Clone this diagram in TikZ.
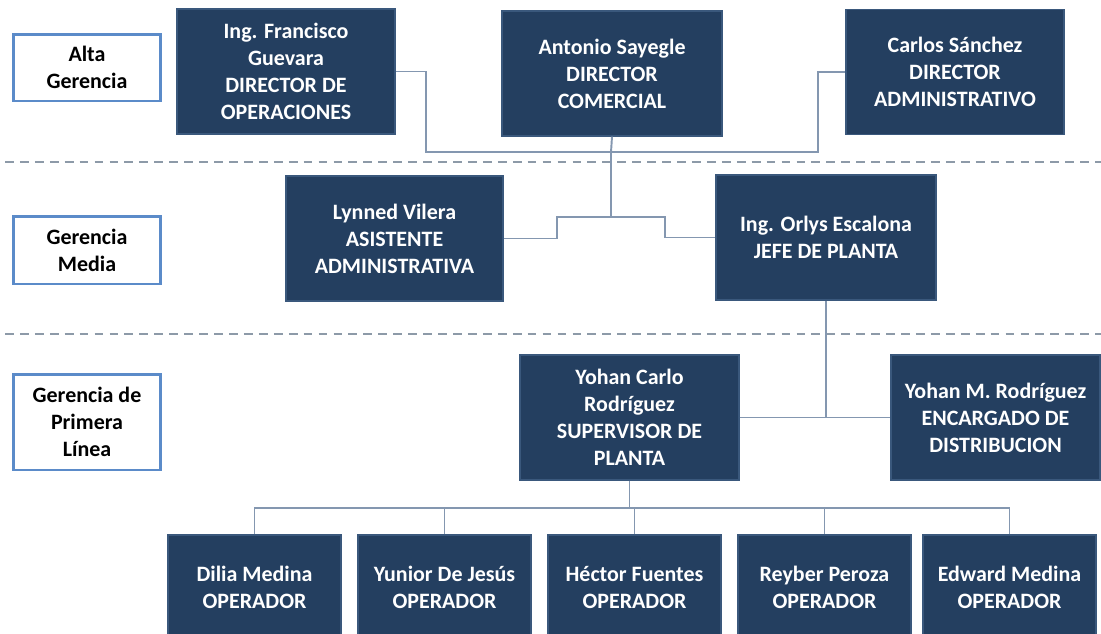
\documentclass[tikz,border=0pt]{standalone}
\usepackage{fontspec}
\setmainfont{Carlito}
\usetikzlibrary{positioning}
\definecolor{boxnavy}{HTML}{243F60}
\definecolor{boxedge}{HTML}{3A587C}
\definecolor{linkgray}{HTML}{8497B0}
\definecolor{levelblue}{HTML}{5B8BC9}
\definecolor{sepgray}{HTML}{8D9AA8}
\begin{document}
\begin{tikzpicture}[x=0.02cm, y=-0.02cm,
    person/.style={draw=boxedge, line width=0.8pt, fill=boxnavy, text=white, font=\fontsize{12.5}{15.3}\selectfont\bfseries, align=center, minimum width=4.36cm, minimum height=2.5cm, inner sep=2pt},
    worker/.style={person, minimum width=3.46cm, minimum height=2.1cm},
    level/.style={draw=levelblue, line width=1.7pt, fill=white, font=\fontsize{12.5}{15.3}\selectfont\bfseries, align=center, minimum width=2.93cm, inner sep=2pt},
    link/.style={draw=linkgray, line width=1.1pt},
    sep/.style={draw=sepgray, line width=0.9pt, dash pattern=on 5pt off 3.5pt}]
    \useasboundingbox (0,0) rectangle (1101,633);

    % Separators between levels
    \draw[sep] (5,162) -- (1101,162);
    \draw[sep] (5,334) -- (1101,334);

    % Level labels
    \node[level, minimum height=1.34cm] (alta) at (87,67.5) {Alta\\Gerencia};
    \node[level, minimum height=1.36cm] (media) at (87,250) {Gerencia\\Media};
    \node[level, minimum height=1.92cm] (primera) at (87,422) {Gerencia de\\Primera\\Línea};

    % Alta gerencia
    \node[person] (francisco) at (286,71.5) {Ing. Francisco\\Guevara\\DIRECTOR DE\\OPERACIONES};
    \node[person, minimum width=4.4cm] (antonio) at (612,73.5) {Antonio Sayegle\\DIRECTOR\\COMERCIAL};
    \node[person] (carlos) at (955,72) {Carlos Sánchez\\DIRECTOR\\ADMINISTRATIVO};

    % Gerencia media
    \node[person, minimum width=4.34cm] (lynned) at (394.5,238.5) {Lynned Vilera\\ASISTENTE\\ADMINISTRATIVA};
    \node[person, minimum width=4.4cm] (orlys) at (826,237.5) {Ing. Orlys Escalona\\JEFE DE PLANTA};

    % Primera linea
    \node[person, minimum width=4.38cm] (yohanc) at (629.5,417.5) {Yohan Carlo\\Rodríguez\\SUPERVISOR DE\\PLANTA};
    \node[person, minimum width=4.18cm] (yohanm) at (995.5,417.5) {Yohan M. Rodríguez\\ENCARGADO DE\\DISTRIBUCION};

    % Operadores
    \node[worker] (dilia) at (254.5,587.5) {Dilia Medina\\OPERADOR};
    \node[worker] (yunior) at (444.5,587.5) {Yunior De Jesús\\OPERADOR};
    \node[worker] (hector) at (634.5,587.5) {Héctor Fuentes\\OPERADOR};
    \node[worker] (reyber) at (824.5,587.5) {Reyber Peroza\\OPERADOR};
    \node[worker] (edward) at (1009.5,587.5) {Edward Medina\\OPERADOR};

    % Connectors
    \coordinate (topbus) at (611,152);
    \coordinate (midbus) at (611,217);
    \coordinate (opbus) at (629.5,508);
    \draw[link] (francisco.east) -| (426,152) -- (818,152) |- (carlos.west);
    \draw[link] (antonio.south) -- (topbus) -- (midbus);
    \draw[link] (lynned.east) -| (557,217) -- (665,217) |- (orlys.west);
    \draw[link] (orlys.south) -- (orlys.south |- yohanc.east);
    \draw[link] (yohanc.east) -- (yohanm.west);
    \draw[link] (yohanc.south) -- (opbus);
    \foreach \op in {dilia,yunior,hector,reyber,edward}
        \draw[link] (\op.north) |- (opbus);

\end{tikzpicture}
\end{document}
